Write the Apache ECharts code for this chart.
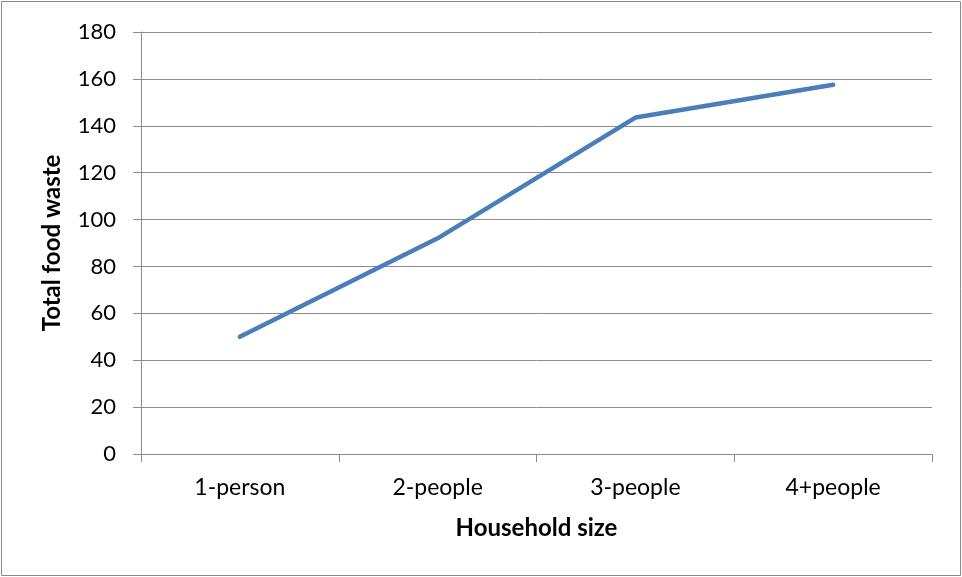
<!DOCTYPE html>
<html>
<head>
<meta charset="utf-8">
<script src="https://cdn.jsdelivr.net/npm/echarts@6/dist/echarts.min.js"></script>
<style>
  html, body { margin: 0; padding: 0; background: #ffffff; }
  #chart { width: 962px; height: 577px; }
</style>
</head>
<body>
<div id="chart"></div>
<script>
// Household size categories and total food waste per category
const categories = ['1-person', '2-people', '3-people', '4+people'];
const totalFoodWaste = [50, 92, 143.5, 157.5];
const yTicks = { min: 0, max: 180, interval: 20 };

const fontFamily = 'Lato, "Open Sans", sans-serif';
const gridGray = '#8c8c8c';

const chart = echarts.init(document.getElementById('chart'), null, { renderer: 'canvas' });

chart.setOption({
  backgroundColor: '#ffffff',
  animation: false,
  graphic: [{
    type: 'rect',
    shape: { x: 1.5, y: 1.5, width: 959, height: 574 },
    style: { fill: 'none', stroke: '#8a8a8a', lineWidth: 1 },
    silent: true
  }],
  grid: { left: 141, right: 30, top: 32, bottom: 123 },
  xAxis: {
    type: 'category',
    data: categories,
    boundaryGap: true,
    name: 'Household size',
    nameLocation: 'middle',
    nameGap: 62,
    nameTextStyle: { fontFamily, fontSize: 24, fontWeight: 'bold', color: '#000' },
    axisLine: { show: true, lineStyle: { color: gridGray, width: 1 } },
    axisTick: { show: true, alignWithLabel: false, length: 8, lineStyle: { color: gridGray } },
    axisLabel: { fontFamily, fontSize: 23, color: '#000', margin: 22 },
    splitLine: { show: false }
  },
  yAxis: {
    type: 'value',
    min: yTicks.min,
    max: yTicks.max,
    interval: yTicks.interval,
    name: 'Total food waste',
    nameLocation: 'middle',
    nameGap: 77,
    nameRotate: 90,
    nameTextStyle: { fontFamily, fontSize: 24, fontWeight: 'bold', color: '#000' },
    axisLine: { show: true, lineStyle: { color: gridGray, width: 1 } },
    axisTick: { show: true, length: 8, lineStyle: { color: gridGray } },
    axisLabel: { fontFamily, fontSize: 22, color: '#000', margin: 25 },
    splitLine: { show: true, lineStyle: { color: gridGray, width: 1 } }
  },
  series: [{
    type: 'line',
    data: totalFoodWaste,
    symbol: 'none',
    lineStyle: { color: '#4a7ebb', width: 4.5, cap: 'round', join: 'round' },
    itemStyle: { color: '#4a7ebb' }
  }]
});
</script>
</body>
</html>
